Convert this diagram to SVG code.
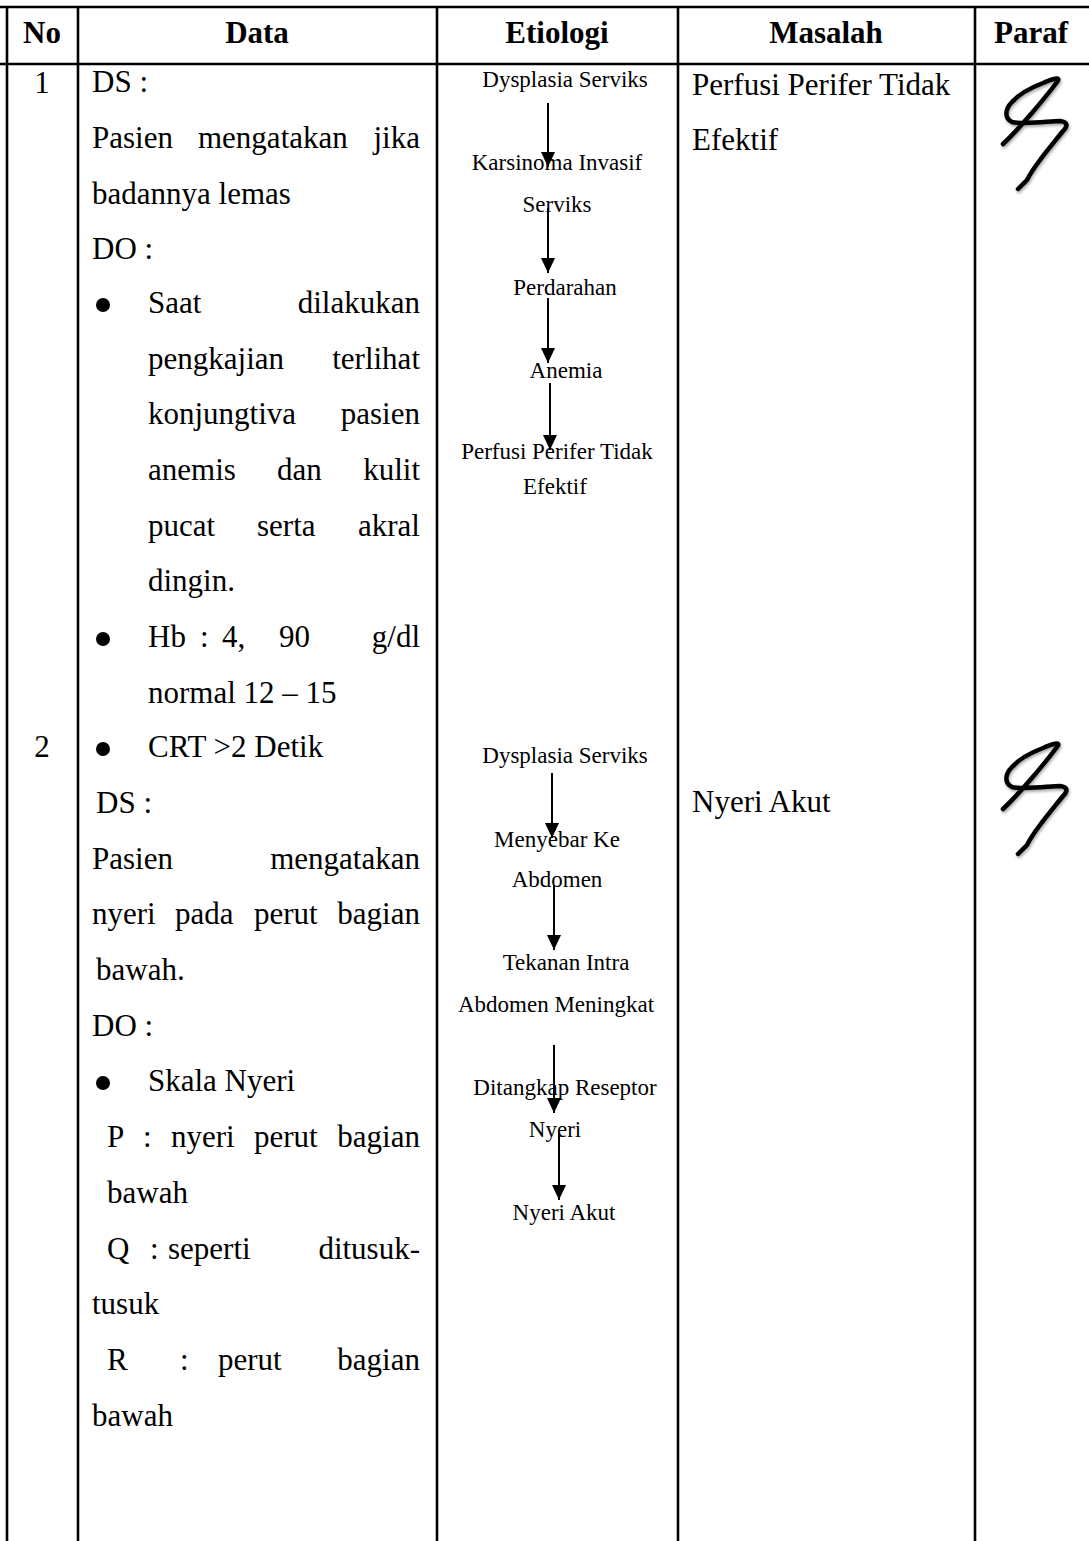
<svg xmlns="http://www.w3.org/2000/svg" width="1089" height="1541" viewBox="0 0 1089 1541">
<style>
.t{font-family:"Liberation Serif","Times New Roman",serif;font-size:31px;fill:#000}
.h{font-family:"Liberation Serif","Times New Roman",serif;font-size:31px;font-weight:bold;fill:#000}
.e{font-family:"Liberation Serif","Times New Roman",serif;font-size:23px;fill:#000;text-anchor:middle}
.m{text-anchor:middle}
.r{text-anchor:end}
.grid line{stroke:#000;stroke-width:2.6}
.conn line{stroke:#000;stroke-width:2}
.sig{fill:none;stroke:#000;stroke-width:4.5;stroke-linecap:round;stroke-linejoin:round}
</style>
<defs>
<marker id="ah" viewBox="0 0 15 14" refX="15" refY="7" markerWidth="15" markerHeight="14" orient="auto" markerUnits="userSpaceOnUse">
<path d="M0,0 L15,7 L0,14 z" fill="#000"/>
</marker>
<filter id="sh" x="-20%" y="-20%" width="140%" height="140%">
<feDropShadow dx="1" dy="2" stdDeviation="1.5" flood-color="#000" flood-opacity="0.35"/>
</filter>
<path id="sigp" class="sig" d="M1003,144 C1020,128 1045,98 1057,82 C1062,76 1052,79 1043,83 C1030,88 1018,95 1012,102 C1005,109 1004,118 1012,122 C1025,125 1050,121 1060,121 C1068,122 1068,126 1063,131 C1055,141 1045,153 1040,160 C1034,168 1030,174 1027,180 L1018,189"/>
</defs>
<rect width="1089" height="1541" fill="#fff"/>

<g id="grid" class="grid">
<line x1="0" y1="7" x2="1089" y2="7"/>
<line x1="0" y1="64" x2="1089" y2="64"/>
<line x1="7" y1="6" x2="7" y2="1541"/>
<line x1="78" y1="6" x2="78" y2="1541"/>
<line x1="437" y1="6" x2="437" y2="1541"/>
<line x1="678" y1="6" x2="678" y2="1541"/>
<line x1="975" y1="6" x2="975" y2="1541"/>
</g>

<g id="header">
<text class="h m" x="42" y="43">No</text>
<text class="h m" x="257" y="43">Data</text>
<text class="h m" x="557" y="43">Etiologi</text>
<text class="h m" x="826" y="43">Masalah</text>
<text class="h m" x="1031" y="43">Paraf</text>
</g>

<g id="no-col">
<text class="t m" x="42" y="93">1</text>
<text class="t m" x="42" y="757">2</text>
</g>

<g id="data-col">
<text class="t" x="92" y="92">DS :</text>
<text class="t" x="92" y="148">Pasien</text><text class="t" x="198" y="148">mengatakan</text><text class="t r" x="420" y="148">jika</text>
<text class="t" x="92" y="204">badannya lemas</text>
<text class="t" x="92" y="259">DO :</text>
<circle cx="103" cy="305" r="7"/>
<text class="t" x="148" y="313">Saat</text><text class="t r" x="420" y="313">dilakukan</text>
<text class="t" x="148" y="369">pengkajian</text><text class="t r" x="420" y="369">terlihat</text>
<text class="t" x="148" y="424">konjungtiva</text><text class="t r" x="420" y="424">pasien</text>
<text class="t" x="148" y="480">anemis</text><text class="t" x="277" y="480">dan</text><text class="t r" x="420" y="480">kulit</text>
<text class="t" x="148" y="536">pucat</text><text class="t" x="257" y="536">serta</text><text class="t r" x="420" y="536">akral</text>
<text class="t" x="148" y="591">dingin.</text>
<circle cx="103" cy="639" r="7"/>
<text class="t" x="148" y="647">Hb</text><text class="t" x="200" y="647">:</text><text class="t" x="222" y="647">4,</text><text class="t" x="279" y="647">90</text><text class="t r" x="420" y="647">g/dl</text>
<text class="t" x="148" y="703">normal 12 – 15</text>
<circle cx="103" cy="749" r="7"/>
<text class="t" x="148" y="757">CRT &gt;2 Detik</text>

<text class="t" x="96" y="813">DS :</text>
<text class="t" x="92" y="869">Pasien</text><text class="t r" x="420" y="869">mengatakan</text>
<text class="t" x="92" y="924">nyeri</text><text class="t" x="175" y="924">pada</text><text class="t" x="254" y="924">perut</text><text class="t r" x="420" y="924">bagian</text>
<text class="t" x="96" y="980">bawah.</text>
<text class="t" x="92" y="1036">DO :</text>
<circle cx="103" cy="1083" r="7"/>
<text class="t" x="148" y="1091">Skala Nyeri</text>
<text class="t" x="107" y="1147">P</text><text class="t" x="143" y="1147">:</text><text class="t" x="171" y="1147">nyeri</text><text class="t" x="254" y="1147">perut</text><text class="t r" x="420" y="1147">bagian</text>
<text class="t" x="107" y="1203">bawah</text>
<text class="t" x="107" y="1259">Q</text><text class="t" x="150" y="1259">:</text><text class="t" x="168" y="1259">seperti</text><text class="t r" x="420" y="1259">ditusuk-</text>
<text class="t" x="92" y="1314">tusuk</text>
<text class="t" x="107" y="1370">R</text><text class="t" x="180" y="1370">:</text><text class="t" x="218" y="1370">perut</text><text class="t r" x="420" y="1370">bagian</text>
<text class="t" x="92" y="1426">bawah</text>
</g>

<g id="etiologi-1">
<g id="e1-n1"><text class="e" x="565" y="87">Dysplasia Serviks</text></g>
<g id="e1-n2"><text class="e" x="557" y="170">Karsinoma Invasif</text><text class="e" x="557" y="212">Serviks</text></g>
<g id="e1-n3"><text class="e" x="565" y="295">Perdarahan</text></g>
<g id="e1-n4"><text class="e" x="566" y="378">Anemia</text></g>
<g id="e1-n5"><text class="e" x="557" y="459">Perfusi Perifer Tidak</text><text class="e" x="555" y="494">Efektif</text></g>
</g>

<g id="etiologi-2">
<g id="e2-n1"><text class="e" x="565" y="763">Dysplasia Serviks</text></g>
<g id="e2-n2"><text class="e" x="557" y="847">Menyebar Ke</text><text class="e" x="557" y="887">Abdomen</text></g>
<g id="e2-n3"><text class="e" x="566" y="970">Tekanan Intra</text><text class="e" x="556" y="1012">Abdomen Meningkat</text></g>
<g id="e2-n4"><text class="e" x="565" y="1095">Ditangkap Reseptor</text><text class="e" x="555" y="1137">Nyeri</text></g>
<g id="e2-n5"><text class="e" x="564" y="1220">Nyeri Akut</text></g>
</g>

<g id="connectors" class="conn">
<line x1="548" y1="103" x2="548" y2="167" marker-end="url(#ah)"/>
<line x1="548" y1="208" x2="548" y2="273" marker-end="url(#ah)"/>
<line x1="548" y1="298" x2="548" y2="363" marker-end="url(#ah)"/>
<line x1="550" y1="383" x2="550" y2="450" marker-end="url(#ah)"/>
<line x1="552" y1="773" x2="552" y2="838" marker-end="url(#ah)"/>
<line x1="554" y1="885" x2="554" y2="950" marker-end="url(#ah)"/>
<line x1="554" y1="1045" x2="554" y2="1113" marker-end="url(#ah)"/>
<line x1="559" y1="1133" x2="559" y2="1200" marker-end="url(#ah)"/>
</g>

<g id="masalah-col">
<text class="t" x="692" y="95">Perfusi Perifer Tidak</text>
<text class="t" x="692" y="150">Efektif</text>
<text class="t" x="692" y="812">Nyeri Akut</text>
</g>

<g id="paraf-col" filter="url(#sh)">
<use href="#sigp"/>
<use href="#sigp" transform="translate(0,665)"/>
</g>
</svg>
